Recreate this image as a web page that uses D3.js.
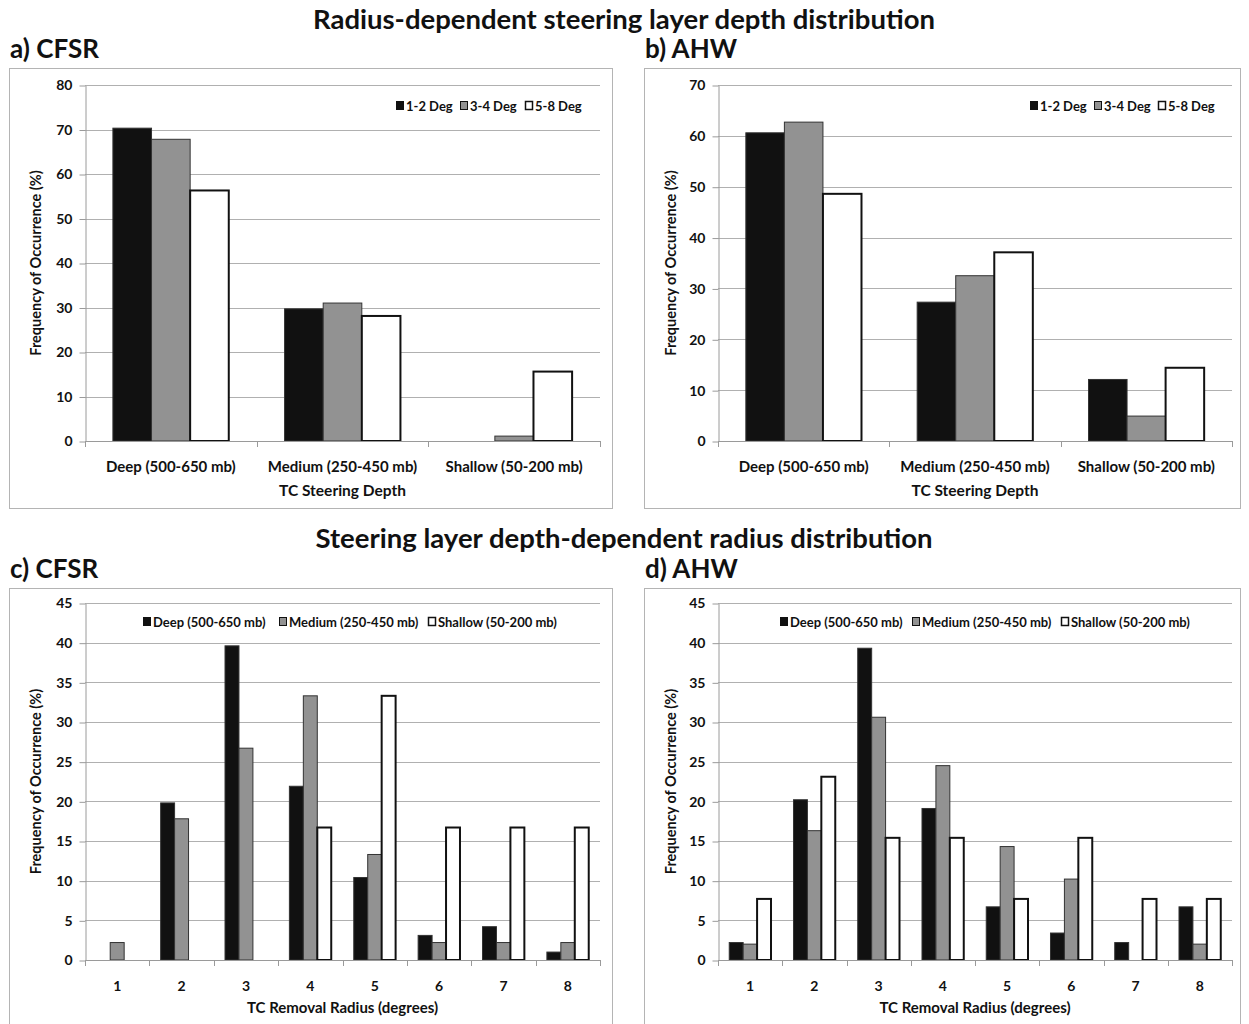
<!DOCTYPE html>
<html>
<head>
<meta charset="utf-8">
<script src="https://cdn.jsdelivr.net/npm/d3@7"></script>
<style>
body { margin: 0; background: #fff; }
text { font-family: Lato, "Open Sans", sans-serif; fill: #111; }
</style>
</head>
<body>
<svg id="chart" width="1249" height="1024"></svg>
<script>
// top panels: categories are steering depths, series are removal radii
var depthCats = ["Deep (500-650 mb)", "Medium (250-450 mb)", "Shallow (50-200 mb)"];
var radiusSeries = ["1-2 Deg", "3-4 Deg", "5-8 Deg"];
var cfsrDeg12 = [70.3, 29.7, 0];
var cfsrDeg34 = [67.8, 31.0, 1.1];
var cfsrDeg58 = [56.3, 28.1, 15.6];
var ahwDeg12 = [60.6, 27.3, 12.1];
var ahwDeg34 = [62.7, 32.5, 4.9];
var ahwDeg58 = [48.6, 37.1, 14.4];

// bottom panels: categories are removal radii, series are steering depths
var radiusCats = ["1", "2", "3", "4", "5", "6", "7", "8"];
var depthSeries = ["Deep (500-650 mb)", "Medium (250-450 mb)", "Shallow (50-200 mb)"];
var cfsrDeep = [0, 19.8, 39.6, 21.9, 10.4, 3.1, 4.2, 1.0];
var cfsrMedium = [2.2, 17.8, 26.7, 33.3, 13.3, 2.2, 2.2, 2.2];
var cfsrShallow = [0, 0, 0, 16.7, 33.3, 16.7, 16.7, 16.7];
var ahwDeep = [2.2, 20.2, 39.3, 19.1, 6.7, 3.4, 2.2, 6.7];
var ahwMedium = [2.0, 16.3, 30.6, 24.5, 14.3, 10.2, 0, 2.0];
var ahwShallow = [7.7, 23.1, 15.4, 15.4, 7.7, 15.4, 7.7, 7.7];

var topTicks = [[0, 10, 20, 30, 40, 50, 60, 70, 80], [0, 10, 20, 30, 40, 50, 60, 70]];
var bottomTicks = [0, 5, 10, 15, 20, 25, 30, 35, 40, 45];

var fills = ["#111111", "#929292", "#ffffff"];

var svg = d3.select("#chart");

svg.append("text")
	.attr("x", 624).attr("y", 29)
	.attr("text-anchor", "middle")
	.attr("font-size", 27.5).attr("font-weight", 700)
	.text("Radius-dependent steering layer depth distribution");

svg.append("text")
	.attr("x", 624).attr("y", 548)
	.attr("text-anchor", "middle")
	.attr("font-size", 27.5).attr("font-weight", 700)
	.text("Steering layer depth-dependent radius distribution");

drawPanel({
	label: "a) CFSR", lx: 10, ly: 58,
	frame: [9, 68, 603, 440],
	plot: [85, 85, 600, 441],
	cats: depthCats, series: radiusSeries,
	values: [cfsrDeg12, cfsrDeg34, cfsrDeg58],
	ticks: topTicks[0], pad: 0.325,
	catSize: 15, catY: 472, xTitle: "TC Steering Depth", xTitleSize: 15.5, xTitleY: 496,
	legendY: 106, legendX: [396, 460, 525]
});

drawPanel({
	label: "b) AHW", lx: 645, ly: 58,
	frame: [644, 68, 596, 440],
	plot: [718, 85, 1232, 441],
	cats: depthCats, series: radiusSeries,
	values: [ahwDeg12, ahwDeg34, ahwDeg58],
	ticks: topTicks[1], pad: 0.325,
	catSize: 15, catY: 472, xTitle: "TC Steering Depth", xTitleSize: 15.5, xTitleY: 496,
	legendY: 106, legendX: [1030, 1094, 1158]
});

drawPanel({
	label: "c) CFSR", lx: 10, ly: 578,
	frame: [9, 588, 603, 440],
	plot: [85, 603, 600, 960],
	cats: radiusCats, series: depthSeries,
	values: [cfsrDeep, cfsrMedium, cfsrShallow],
	ticks: bottomTicks, pad: 0.35,
	catSize: 14, catY: 991, xTitle: "TC Removal Radius (degrees)", xTitleSize: 15, xTitleY: 1013,
	legendY: 622, legendX: [143, 279, 428]
});

drawPanel({
	label: "d) AHW", lx: 645, ly: 578,
	frame: [644, 588, 596, 440],
	plot: [718, 603, 1232, 960],
	cats: radiusCats, series: depthSeries,
	values: [ahwDeep, ahwMedium, ahwShallow],
	ticks: bottomTicks, pad: 0.35,
	catSize: 14, catY: 991, xTitle: "TC Removal Radius (degrees)", xTitleSize: 15, xTitleY: 1013,
	legendY: 622, legendX: [780, 912, 1061]
});

function drawPanel(p) {
	var left = p.plot[0], top = p.plot[1], right = p.plot[2], bottom = p.plot[3];

	svg.append("rect")
		.attr("x", p.frame[0] + 0.5).attr("y", p.frame[1] + 0.5)
		.attr("width", p.frame[2]).attr("height", p.frame[3])
		.attr("fill", "none").attr("stroke", "#b4b4b4");

	svg.append("text")
		.attr("x", p.lx).attr("y", p.ly)
		.attr("font-size", 26).attr("font-weight", 700)
		.text(p.label);

	var y = d3.scaleLinear()
		.domain([0, p.ticks[p.ticks.length - 1]])
		.range([bottom, top]);

	var x = d3.scaleBand()
		.domain(p.cats)
		.range([left, right])
		.paddingInner(p.pad)
		.paddingOuter(p.pad / 2);

	var xs = d3.scaleBand()
		.domain(d3.range(p.series.length))
		.range([0, x.bandwidth()]);

	// gridlines
	svg.append("g")
		.selectAll("line")
		.data(p.ticks.slice(1))
		.enter().append("line")
		.attr("x1", left).attr("x2", right)
		.attr("y1", function(d) { return Math.round(y(d)) + 0.5; })
		.attr("y2", function(d) { return Math.round(y(d)) + 0.5; })
		.attr("stroke", "#b0b0b0").attr("stroke-width", 1.2);

	// y axis
	var yAxis = svg.append("g")
		.attr("transform", "translate(" + (left + 0.5) + ",0.5)")
		.call(d3.axisLeft(y).tickValues(p.ticks).tickSizeOuter(0).tickSizeInner(6).tickPadding(7));
	yAxis.select(".domain").attr("stroke", "#9a9a9a");
	yAxis.selectAll(".tick line").attr("stroke", "#9a9a9a");
	yAxis.selectAll(".tick text")
		.attr("font-size", 14).attr("font-weight", 700)
		.attr("font-family", "Lato, sans-serif").attr("fill", "#111");

	// bars
	var groups = svg.append("g")
		.selectAll("g")
		.data(p.values)
		.enter().append("g");

	groups.selectAll("rect")
		.data(function(vals, si) {
			return vals.map(function(v, ci) { return { s: si, c: p.cats[ci], v: v }; });
		})
		.enter().append("rect")
		.filter(function(d) { return d.v > 0; })
		.attr("x", function(d) { return x(d.c) + xs(d.s); })
		.attr("width", xs.bandwidth())
		.attr("y", function(d) { return y(d.v); })
		.attr("height", function(d) { return y(0) - y(d.v); })
		.attr("fill", function(d) { return fills[d.s]; })
		.attr("stroke", function(d) { return d.s == 2 ? "#111" : "#333"; })
		.attr("stroke-width", function(d) { return d.s == 2 ? 2 : 1; });

	// x axis line and ticks between categories
	svg.append("line")
		.attr("x1", left).attr("x2", right)
		.attr("y1", bottom + 0.5).attr("y2", bottom + 0.5)
		.attr("stroke", "#9a9a9a");

	var step = x.step();
	svg.append("g")
		.selectAll("line")
		.data(d3.range(p.cats.length + 1))
		.enter().append("line")
		.attr("x1", function(i) { return Math.round(left + i * step) + 0.5; })
		.attr("x2", function(i) { return Math.round(left + i * step) + 0.5; })
		.attr("y1", bottom).attr("y2", bottom + 6)
		.attr("stroke", "#9a9a9a");

	svg.append("g")
		.selectAll("text")
		.data(p.cats)
		.enter().append("text")
		.attr("x", function(d) { return x(d) + x.bandwidth() / 2; })
		.attr("y", p.catY)
		.attr("text-anchor", "middle")
		.attr("font-size", p.catSize).attr("font-weight", 700)
		.text(function(d) { return d; });

	svg.append("text")
		.attr("x", (left + right) / 2).attr("y", p.xTitleY)
		.attr("text-anchor", "middle")
		.attr("font-size", p.xTitleSize).attr("font-weight", 700)
		.text(p.xTitle);

	svg.append("text")
		.attr("transform", "translate(" + (p.frame[0] + 32) + "," + ((top + bottom) / 2) + ") rotate(-90)")
		.attr("text-anchor", "middle")
		.attr("font-size", 14.5).attr("font-weight", 700)
		.text("Frequency of Occurrence (%)");

	// legend
	var leg = svg.append("g")
		.selectAll("g")
		.data(p.series)
		.enter().append("g")
		.attr("transform", function(d, i) { return "translate(" + p.legendX[i] + "," + p.legendY + ")"; });

	leg.append("rect")
		.attr("x", 0.5).attr("y", -4.5)
		.attr("width", 7).attr("height", 8)
		.attr("fill", function(d, i) { return fills[i]; })
		.attr("stroke", "#111").attr("stroke-width", function(d, i) { return i == 2 ? 1.5 : 1; });

	leg.append("text")
		.attr("x", 10).attr("y", 4.5)
		.attr("font-size", 13).attr("font-weight", 700)
		.text(function(d) { return d; });
}
</script>
</body>
</html>
